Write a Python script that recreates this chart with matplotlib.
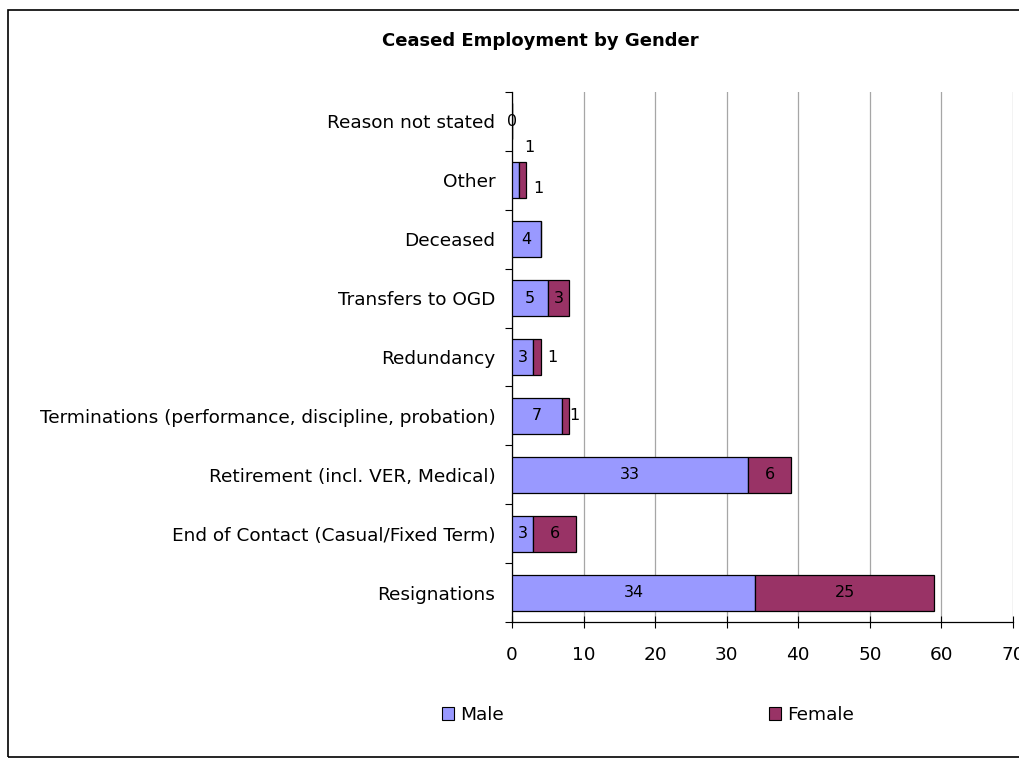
import matplotlib
matplotlib.use("Agg")
import matplotlib.pyplot as plt
from matplotlib.patches import Rectangle, Patch

plt.rcParams['font.family'] = ['DejaVu Sans']

categories = [
    "Reason not stated",
    "Other",
    "Deceased",
    "Transfers to OGD",
    "Redundancy",
    "Terminations (performance, discipline, probation)",
    "Retirement (incl. VER, Medical)",
    "End of Contact (Casual/Fixed Term)",
    "Resignations",
]
male = [0, 1, 4, 5, 3, 7, 33, 3, 34]
female = [0, 1, 0, 3, 1, 1, 6, 6, 25]

male_color = "#9999FF"
female_color = "#993366"

W, H = 1019, 760
fig = plt.figure(figsize=(W / 100, H / 100), dpi=100)

# axes box in pixel coordinates: x 512..1013 (0..70), y 92..622
left, right, top, bottom = 512, 1013, 92, 622
ax = fig.add_axes([left / W, 1 - bottom / H, (right - left) / W, (bottom - top) / H])

fs = 13.3
y = list(range(len(categories)))
bh = 0.61
ax.barh(y, male, height=bh, color=male_color, edgecolor="black", linewidth=0.9, zorder=3)
ax.barh(y, female, left=male, height=bh, color=female_color, edgecolor="black", linewidth=0.9, zorder=3)

ax.set_xlim(0, 70)
ax.set_ylim(len(categories) - 0.5, -0.5)
ax.set_xticks(range(0, 71, 10))
ax.set_yticks(y)
ax.set_yticklabels(categories)
ax.set_yticks([i - 0.5 for i in range(len(categories) + 1)], minor=True)
ax.tick_params(axis="y", which="major", length=0, pad=12, labelsize=fs, colors="black")
ax.tick_params(axis="y", which="minor", length=5, width=0.8, direction="out")
ax.tick_params(axis="x", which="major", length=8, width=0.8, direction="inout", pad=13, labelsize=fs)

ax.grid(axis="x", color="#A6A6A6", linewidth=0.9, zorder=0)
for s in ["top", "right"]:
    ax.spines[s].set_visible(False)
for s in ["left", "bottom"]:
    ax.spines[s].set_linewidth(0.9)

# value labels
lab_fs = 11.5
for i, (m, f) in enumerate(zip(male, female)):
    cat = categories[i]
    if cat == "Reason not stated":
        ax.text(m, i, str(m), ha="center", va="center", fontsize=lab_fs, zorder=4)
        continue
    if cat == "Other":
        ax.annotate(str(m), (m, i - bh / 2), xytext=(4, 5), textcoords="offset points",
                    ha="left", va="bottom", fontsize=lab_fs)
        ax.annotate(str(f), (m + f, i), xytext=(5, -6), textcoords="offset points",
                    ha="left", va="center", fontsize=lab_fs)
        continue
    if m > 0:
        ax.text(m / 2, i, str(m), ha="center", va="center", fontsize=lab_fs, zorder=4)
    if f > 0:
        if f >= 3:
            ax.text(m + f / 2, i, str(f), ha="center", va="center", fontsize=lab_fs, zorder=4)
        elif cat == "Redundancy":
            ax.annotate(str(f), (m + f, i), xytext=(5, 0), textcoords="offset points",
                        ha="left", va="center", fontsize=lab_fs)
        else:
            ax.annotate(str(f), (m + f, i), xytext=(0, 0), textcoords="offset points",
                        ha="left", va="center", fontsize=lab_fs)

fig.text(540 / W, 1 - 41 / H, "Ceased Employment by Gender", ha="center", va="center",
         fontsize=13, fontweight="bold")

handles = [Patch(facecolor=male_color, edgecolor="black", linewidth=0.8, label="Male"),
           Patch(facecolor=female_color, edgecolor="black", linewidth=0.8, label="Female")]
fig.legend(handles=handles, ncol=2, loc="center", bbox_to_anchor=(648 / W, 1 - 715 / H),
           frameon=False, fontsize=fs, handlelength=0.65, handleheight=0.65,
           handletextpad=0.3, columnspacing=14.4, borderpad=0, borderaxespad=0)

# chart frame
fig.patches.append(Rectangle((8 / W, 1 - 757 / H), 1.2, (757 - 10) / H,
                             transform=fig.transFigure, fill=False, edgecolor="black",
                             linewidth=1.2, clip_on=False))

fig.savefig("out.png", dpi=100)
